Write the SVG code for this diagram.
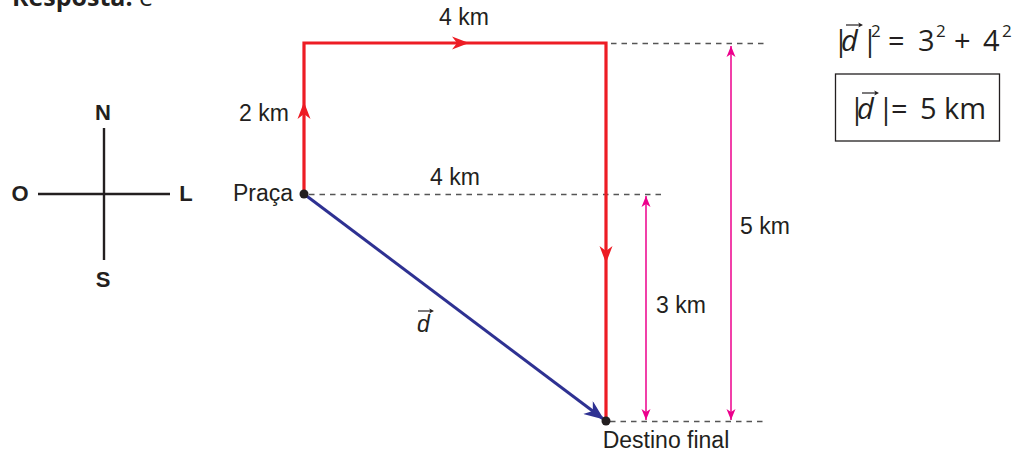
<svg xmlns="http://www.w3.org/2000/svg" xmlns:xlink="http://www.w3.org/1999/xlink" width="1020" height="456" viewBox="0 0 1020 456">
<style>
.lbl{font-family:"Liberation Sans",Arial,sans-serif;font-size:23px;fill:#231f20}
.cmp{font-family:"Liberation Sans",Arial,sans-serif;font-size:22px;font-weight:bold;fill:#231f20}
.eq{font-family:"Open Sans","Noto Sans",sans-serif;font-size:29px;fill:#231f20}
.sup{font-family:"Open Sans","Noto Sans",sans-serif;font-size:17px;fill:#231f20}
.it{font-style:italic}
.red{stroke:#ed1c24;stroke-width:3.2;fill:none}
.dash{stroke:#555;stroke-width:1.3;stroke-dasharray:5.5 5;fill:none}
.pink{stroke:#ec008c;stroke-width:1.5;fill:none}
.axis{stroke:#231f20;stroke-width:2.4;fill:none}
.vec{stroke:#231f20;stroke-width:1.2;fill:none}
</style>
<defs>
<path id="redHead" d="M0,0 L-17,-6.5 L-12,0 L-17,6.5 Z" fill="#ed1c24"/>
<path id="vecHead" d="M0,0 L-4,-2 L-3,0 L-4,2 Z" fill="#231f20"/>
<marker id="blueHead" markerUnits="userSpaceOnUse" markerWidth="24" markerHeight="16" refX="20" refY="8" orient="auto" viewBox="0 0 24 16">
<path d="M20,8 L0,0 L6,8 L0,16 Z" fill="#2e3192"/>
</marker>
<marker id="pinkEnd" markerUnits="userSpaceOnUse" markerWidth="12" markerHeight="10" refX="11" refY="5" orient="auto" viewBox="0 0 12 10">
<path d="M11,5 L0,0.5 L3,5 L0,9.5 Z" fill="#ec008c"/>
</marker>
<marker id="pinkStart" markerUnits="userSpaceOnUse" markerWidth="12" markerHeight="10" refX="1" refY="5" orient="auto" viewBox="0 0 12 10">
<path d="M1,5 L12,0.5 L9,5 L12,9.5 Z" fill="#ec008c"/>
</marker>
</defs>

<g id="header">
<text x="12" y="6" style="font-family:'Open Sans','Noto Sans',sans-serif;font-size:25px;fill:#231f20"><tspan font-weight="bold">Resposta:</tspan> e</text>
</g>

<g id="compass">
<line class="axis" x1="104" y1="128" x2="104" y2="260"/>
<line class="axis" x1="38" y1="194" x2="170" y2="194"/>
<text class="cmp" x="103" y="120" text-anchor="middle">N</text>
<text class="cmp" x="103" y="287" text-anchor="middle">S</text>
<text class="cmp" x="20" y="201" text-anchor="middle">O</text>
<text class="cmp" x="186" y="201" text-anchor="middle">L</text>
</g>

<g id="connectors">
<line class="dash" x1="309" y1="194.5" x2="662" y2="194.5"/>
<line class="dash" x1="611" y1="43.5" x2="766" y2="43.5"/>
<line class="dash" x1="610" y1="421.5" x2="766" y2="421.5"/>
<path class="red" d="M304,194 L304,43 L606,43 L606,421"/>
<use xlink:href="#redHead" transform="translate(304,102) rotate(-90)"/>
<use xlink:href="#redHead" transform="translate(469,43)"/>
<use xlink:href="#redHead" transform="translate(606,263) rotate(90)"/>
<line x1="304" y1="194" x2="604" y2="419.5" stroke="#2e3192" stroke-width="3" marker-end="url(#blueHead)"/>
<line class="pink" x1="646" y1="196" x2="646" y2="420" marker-start="url(#pinkStart)" marker-end="url(#pinkEnd)"/>
<line class="pink" x1="731" y1="46" x2="731" y2="420" marker-start="url(#pinkStart)" marker-end="url(#pinkEnd)"/>
</g>

<g id="praca">
<circle cx="304" cy="194" r="4.5" fill="#231f20"/>
<text class="lbl" x="293" y="201" text-anchor="end">Praça</text>
</g>

<g id="destino">
<circle cx="606" cy="421" r="4.5" fill="#231f20"/>
<text class="lbl" x="666" y="448" text-anchor="middle">Destino final</text>
</g>

<g id="labels">
<text class="lbl" x="464" y="25" text-anchor="middle">4 km</text>
<text class="lbl" x="264" y="121" text-anchor="middle">2 km</text>
<text class="lbl" x="455" y="185" text-anchor="middle">4 km</text>
<text class="lbl" x="765" y="234" text-anchor="middle">5 km</text>
<text class="lbl" x="681" y="313" text-anchor="middle">3 km</text>
<text class="lbl it" x="417" y="332">d</text>
<line class="vec" x1="418" y1="311" x2="432" y2="311"/>
<use xlink:href="#vecHead" transform="translate(434,311) scale(1.2)"/>
</g>

<g id="equation1">
<text class="eq" x="833" y="51">|</text>
<text class="eq it" x="841" y="51">d</text>
<line class="vec" x1="846" y1="25" x2="860" y2="25"/>
<use xlink:href="#vecHead" transform="translate(863,25) scale(1.2)"/>
<text class="eq" x="862" y="51">|</text>
<text class="sup" x="871" y="37">2</text>
<text class="eq" x="888" y="51">=</text>
<text class="eq" x="918" y="51">3</text>
<text class="sup" x="936" y="37">2</text>
<text class="eq" x="954" y="51">+</text>
<text class="eq" x="983" y="51">4</text>
<text class="sup" x="1002" y="37">2</text>
</g>

<g id="equation2">
<rect x="835.5" y="74" width="164" height="67" fill="none" stroke="#231f20" stroke-width="1.3"/>
<text class="eq" x="849" y="119">|</text>
<text class="eq it" x="857" y="119">d</text>
<line class="vec" x1="862" y1="93" x2="876" y2="93"/>
<use xlink:href="#vecHead" transform="translate(879,93) scale(1.2)"/>
<text class="eq" x="878" y="119">|</text>
<text class="eq" x="891" y="119">=</text>
<text class="eq" x="920" y="119">5 km</text>
</g>
</svg>
